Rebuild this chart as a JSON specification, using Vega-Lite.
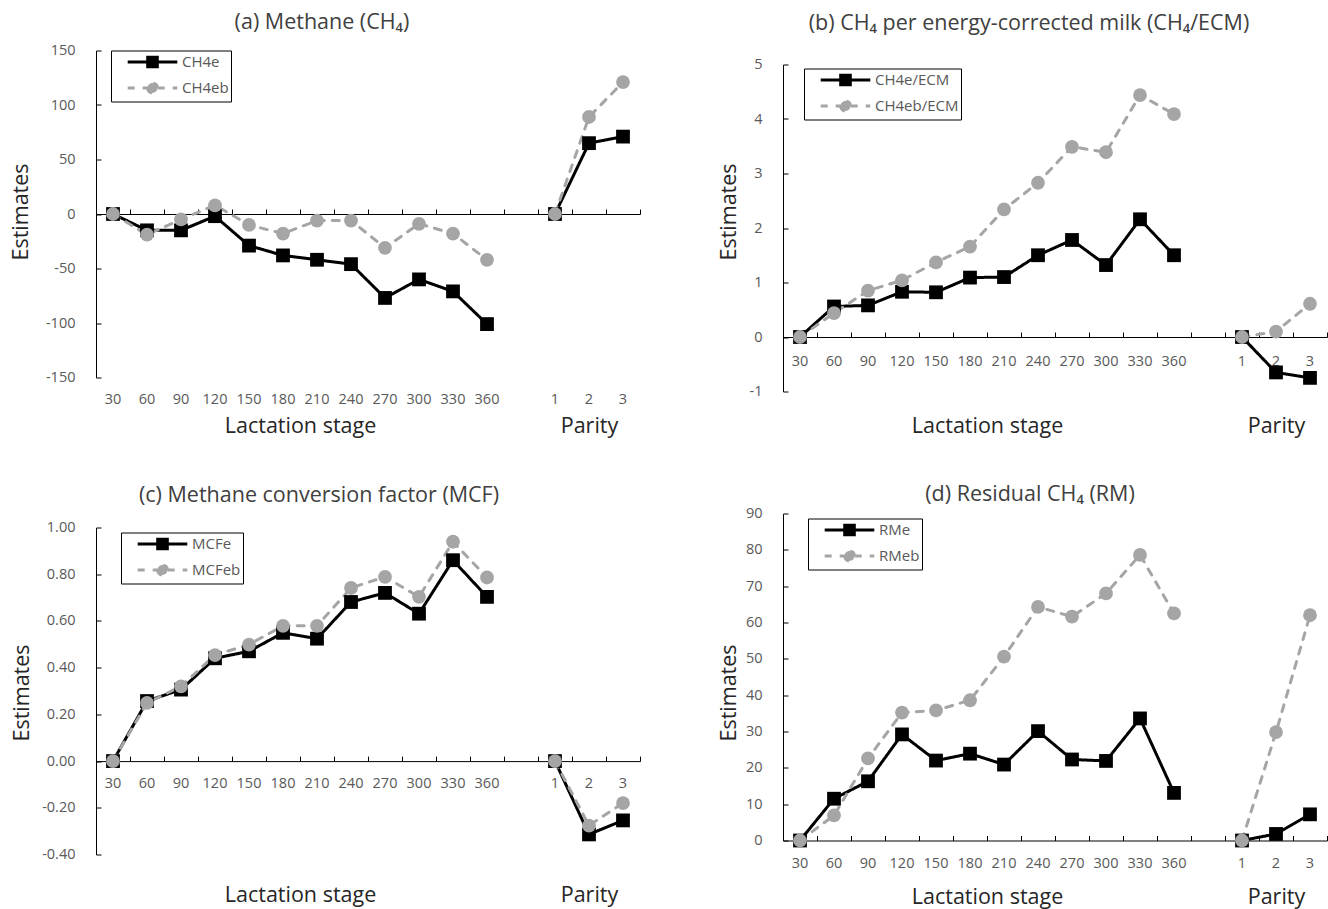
{
  "$schema": "https://vega.github.io/schema/vega-lite/v6.json",
  "background": "white",
  "padding": {"left": 10, "top": 11.5, "right": 0, "bottom": 0},
  "columns": 2,
  "spacing": {"row": 46, "column": 77},
  "resolve": {
    "scale": {"color": "independent", "strokeDash": "independent"},
    "legend": {"color": "independent", "strokeDash": "independent"}
  },
  "datasets": {
    "a": [
      {"cat": "30", "part": "L", "series": "CH4e", "value": 0},
      {"cat": "60", "part": "L", "series": "CH4e", "value": -15},
      {"cat": "90", "part": "L", "series": "CH4e", "value": -15},
      {"cat": "120", "part": "L", "series": "CH4e", "value": -2},
      {"cat": "150", "part": "L", "series": "CH4e", "value": -29},
      {"cat": "180", "part": "L", "series": "CH4e", "value": -38},
      {"cat": "210", "part": "L", "series": "CH4e", "value": -42},
      {"cat": "240", "part": "L", "series": "CH4e", "value": -46},
      {"cat": "270", "part": "L", "series": "CH4e", "value": -77},
      {"cat": "300", "part": "L", "series": "CH4e", "value": -60},
      {"cat": "330", "part": "L", "series": "CH4e", "value": -71},
      {"cat": "360", "part": "L", "series": "CH4e", "value": -101},
      {"cat": "1", "part": "P", "series": "CH4e", "value": 0},
      {"cat": "2", "part": "P", "series": "CH4e", "value": 65},
      {"cat": "3", "part": "P", "series": "CH4e", "value": 71},
      {"cat": "30", "part": "L", "series": "CH4eb", "value": 0},
      {"cat": "60", "part": "L", "series": "CH4eb", "value": -19},
      {"cat": "90", "part": "L", "series": "CH4eb", "value": -5},
      {"cat": "120", "part": "L", "series": "CH4eb", "value": 8},
      {"cat": "150", "part": "L", "series": "CH4eb", "value": -10},
      {"cat": "180", "part": "L", "series": "CH4eb", "value": -18},
      {"cat": "210", "part": "L", "series": "CH4eb", "value": -6},
      {"cat": "240", "part": "L", "series": "CH4eb", "value": -6},
      {"cat": "270", "part": "L", "series": "CH4eb", "value": -31},
      {"cat": "300", "part": "L", "series": "CH4eb", "value": -9},
      {"cat": "330", "part": "L", "series": "CH4eb", "value": -18},
      {"cat": "360", "part": "L", "series": "CH4eb", "value": -42},
      {"cat": "1", "part": "P", "series": "CH4eb", "value": 0},
      {"cat": "2", "part": "P", "series": "CH4eb", "value": 89},
      {"cat": "3", "part": "P", "series": "CH4eb", "value": 121}
    ],
    "b": [
      {"cat": "30", "part": "L", "series": "CH4e/ECM", "value": 0},
      {"cat": "60", "part": "L", "series": "CH4e/ECM", "value": 0.56},
      {"cat": "90", "part": "L", "series": "CH4e/ECM", "value": 0.58},
      {"cat": "120", "part": "L", "series": "CH4e/ECM", "value": 0.83},
      {"cat": "150", "part": "L", "series": "CH4e/ECM", "value": 0.82},
      {"cat": "180", "part": "L", "series": "CH4e/ECM", "value": 1.09},
      {"cat": "210", "part": "L", "series": "CH4e/ECM", "value": 1.10},
      {"cat": "240", "part": "L", "series": "CH4e/ECM", "value": 1.50},
      {"cat": "270", "part": "L", "series": "CH4e/ECM", "value": 1.78},
      {"cat": "300", "part": "L", "series": "CH4e/ECM", "value": 1.32},
      {"cat": "330", "part": "L", "series": "CH4e/ECM", "value": 2.16},
      {"cat": "360", "part": "L", "series": "CH4e/ECM", "value": 1.50},
      {"cat": "1", "part": "P", "series": "CH4e/ECM", "value": 0},
      {"cat": "2", "part": "P", "series": "CH4e/ECM", "value": -0.65},
      {"cat": "3", "part": "P", "series": "CH4e/ECM", "value": -0.75},
      {"cat": "30", "part": "L", "series": "CH4eb/ECM", "value": 0},
      {"cat": "60", "part": "L", "series": "CH4eb/ECM", "value": 0.44},
      {"cat": "90", "part": "L", "series": "CH4eb/ECM", "value": 0.85},
      {"cat": "120", "part": "L", "series": "CH4eb/ECM", "value": 1.04},
      {"cat": "150", "part": "L", "series": "CH4eb/ECM", "value": 1.37},
      {"cat": "180", "part": "L", "series": "CH4eb/ECM", "value": 1.66},
      {"cat": "210", "part": "L", "series": "CH4eb/ECM", "value": 2.34},
      {"cat": "240", "part": "L", "series": "CH4eb/ECM", "value": 2.83},
      {"cat": "270", "part": "L", "series": "CH4eb/ECM", "value": 3.49},
      {"cat": "300", "part": "L", "series": "CH4eb/ECM", "value": 3.39},
      {"cat": "330", "part": "L", "series": "CH4eb/ECM", "value": 4.44},
      {"cat": "360", "part": "L", "series": "CH4eb/ECM", "value": 4.09},
      {"cat": "1", "part": "P", "series": "CH4eb/ECM", "value": 0},
      {"cat": "2", "part": "P", "series": "CH4eb/ECM", "value": 0.10},
      {"cat": "3", "part": "P", "series": "CH4eb/ECM", "value": 0.61}
    ],
    "c": [
      {"cat": "30", "part": "L", "series": "MCFe", "value": 0},
      {"cat": "60", "part": "L", "series": "MCFe", "value": 0.257},
      {"cat": "90", "part": "L", "series": "MCFe", "value": 0.306},
      {"cat": "120", "part": "L", "series": "MCFe", "value": 0.44},
      {"cat": "150", "part": "L", "series": "MCFe", "value": 0.47},
      {"cat": "180", "part": "L", "series": "MCFe", "value": 0.549},
      {"cat": "210", "part": "L", "series": "MCFe", "value": 0.524},
      {"cat": "240", "part": "L", "series": "MCFe", "value": 0.681},
      {"cat": "270", "part": "L", "series": "MCFe", "value": 0.72},
      {"cat": "300", "part": "L", "series": "MCFe", "value": 0.631},
      {"cat": "330", "part": "L", "series": "MCFe", "value": 0.86},
      {"cat": "360", "part": "L", "series": "MCFe", "value": 0.703},
      {"cat": "1", "part": "P", "series": "MCFe", "value": 0},
      {"cat": "2", "part": "P", "series": "MCFe", "value": -0.314},
      {"cat": "3", "part": "P", "series": "MCFe", "value": -0.254},
      {"cat": "30", "part": "L", "series": "MCFeb", "value": 0},
      {"cat": "60", "part": "L", "series": "MCFeb", "value": 0.249},
      {"cat": "90", "part": "L", "series": "MCFeb", "value": 0.32},
      {"cat": "120", "part": "L", "series": "MCFeb", "value": 0.454},
      {"cat": "150", "part": "L", "series": "MCFeb", "value": 0.499},
      {"cat": "180", "part": "L", "series": "MCFeb", "value": 0.579},
      {"cat": "210", "part": "L", "series": "MCFeb", "value": 0.579},
      {"cat": "240", "part": "L", "series": "MCFeb", "value": 0.741},
      {"cat": "270", "part": "L", "series": "MCFeb", "value": 0.789},
      {"cat": "300", "part": "L", "series": "MCFeb", "value": 0.703},
      {"cat": "330", "part": "L", "series": "MCFeb", "value": 0.939},
      {"cat": "360", "part": "L", "series": "MCFeb", "value": 0.786},
      {"cat": "1", "part": "P", "series": "MCFeb", "value": 0},
      {"cat": "2", "part": "P", "series": "MCFeb", "value": -0.276},
      {"cat": "3", "part": "P", "series": "MCFeb", "value": -0.18}
    ],
    "d": [
      {"cat": "30", "part": "L", "series": "RMe", "value": 0},
      {"cat": "60", "part": "L", "series": "RMe", "value": 11.5},
      {"cat": "90", "part": "L", "series": "RMe", "value": 16.3},
      {"cat": "120", "part": "L", "series": "RMe", "value": 29.2},
      {"cat": "150", "part": "L", "series": "RMe", "value": 22.0},
      {"cat": "180", "part": "L", "series": "RMe", "value": 23.9},
      {"cat": "210", "part": "L", "series": "RMe", "value": 20.9},
      {"cat": "240", "part": "L", "series": "RMe", "value": 30.1},
      {"cat": "270", "part": "L", "series": "RMe", "value": 22.3},
      {"cat": "300", "part": "L", "series": "RMe", "value": 21.9},
      {"cat": "330", "part": "L", "series": "RMe", "value": 33.6},
      {"cat": "360", "part": "L", "series": "RMe", "value": 13.1},
      {"cat": "1", "part": "P", "series": "RMe", "value": 0},
      {"cat": "2", "part": "P", "series": "RMe", "value": 1.8},
      {"cat": "3", "part": "P", "series": "RMe", "value": 7.2},
      {"cat": "30", "part": "L", "series": "RMeb", "value": 0},
      {"cat": "60", "part": "L", "series": "RMeb", "value": 6.9},
      {"cat": "90", "part": "L", "series": "RMeb", "value": 22.6},
      {"cat": "120", "part": "L", "series": "RMeb", "value": 35.2},
      {"cat": "150", "part": "L", "series": "RMeb", "value": 35.8},
      {"cat": "180", "part": "L", "series": "RMeb", "value": 38.6},
      {"cat": "210", "part": "L", "series": "RMeb", "value": 50.6},
      {"cat": "240", "part": "L", "series": "RMeb", "value": 64.3},
      {"cat": "270", "part": "L", "series": "RMeb", "value": 61.6},
      {"cat": "300", "part": "L", "series": "RMeb", "value": 68.0},
      {"cat": "330", "part": "L", "series": "RMeb", "value": 78.6},
      {"cat": "360", "part": "L", "series": "RMeb", "value": 62.5},
      {"cat": "1", "part": "P", "series": "RMeb", "value": 0},
      {"cat": "2", "part": "P", "series": "RMeb", "value": 29.8},
      {"cat": "3", "part": "P", "series": "RMeb", "value": 62.0}
    ]
  },
  "config": {
    "font": "Open Sans, DejaVu Sans",
    "view": {"stroke": null},
    "axis": {
      "grid": false,
      "domainColor": "#000000",
      "domainWidth": 1,
      "tickColor": "#000000",
      "tickWidth": 1,
      "labelColor": "#595959",
      "labelFontSize": 14.5,
      "titleFontSize": 21.5,
      "titleFontWeight": "normal",
      "titleColor": "#262626"
    },
    "title": {"fontSize": 21.5, "fontWeight": "normal", "color": "#404040", "anchor": "middle", "baseline": "bottom"},
    "legend": {
      "orient": "none",
      "strokeColor": "#000000",
      "fillColor": "#ffffff",
      "padding": 2,
      "rowPadding": 3,
      "labelFontSize": 15,
      "labelColor": "#595959",
      "labelExpr": "datum.label + '   '",
      "symbolSize": 256,
      "symbolOffset": 30,
      "labelOffset": 20,
      "symbolStrokeWidth": 3
    }
  },
  "concat": [
    {
      "data": {"name": "a"},
      "width": 544,
      "height": 327,
      "title": {"text": "(a) Methane (CH₄)", "offset": 9.5, "dx": -46},
      "encoding": {
        "y": {"field": "value", "type": "quantitative",
          "scale": {"domain": [-150, 150], "nice": false, "zero": false},
          "axis": {"title": "Estimates", "values": [-150, -100, -50, 0, 50, 100, 150], "tickSize": -5, "labelPadding": 26,
            "labelExpr": "replace(datum.label, '−', '-')",
            "titleX": -75, "titleY": 161, "titleAngle": 270, "titleAlign": "center", "titleBaseline": "middle"}},
        "color": {"field": "series", "type": "nominal",
          "scale": {"domain": ["CH4e", "CH4eb"], "range": ["#000000", "#A5A5A5"]},
          "legend": {"title": null, "legendX": 15, "legendY": 0,
            "encode": {"symbols": {"update": {
              "shape": {"signal": "datum.index === 0 ? 'M-3.1,0H3.1M-0.6,-0.6H0.6V0.6H-0.6Z' : 'M-3.1,0H3.1M-0.62,0A0.62,0.62,0,1,0,0.62,0A0.62,0.62,0,1,0,-0.62,0Z'"},
              "fill": {"signal": "datum.index === 0 ? '#000000' : '#A5A5A5'"},
              "stroke": {"signal": "datum.index === 0 ? '#000000' : '#A5A5A5'"},
              "strokeWidth": {"value": 3},
              "opacity": {"value": 1}
            }}}}}
      },
      "layer": [
        {
          "mark": {"type": "line", "strokeWidth": 3, "strokeCap": "round", "strokeJoin": "round"},
          "encoding": {
            "x": {"field": "cat", "type": "nominal", "bandPosition": 0.5,
              "scale": {"type": "band", "domain": ["30", "60", "90", "120", "150", "180", "210", "240", "270", "300", "330", "360", " ", "1", "2", "3"], "paddingInner": 0, "paddingOuter": 0},
              "axis": {"orient": "bottom", "offset": 0, "domain": false, "ticks": false, "labelAngle": 0, "labelPadding": 15,
                "title": "Lactation stage", "titleX": 204, "titleY": 49, "titleAlign": "center", "titleBaseline": "middle"}},
            "strokeDash": {"field": "series", "type": "nominal", "scale": {"domain": ["CH4e", "CH4eb"], "range": [[1, 0], [7, 8]]}},
            "detail": {"field": "part"}
          }
        },
        {
          "mark": {"type": "point", "filled": true, "opacity": 1, "size": 190},
          "encoding": {
            "x": {"field": "cat", "type": "nominal", "bandPosition": 0.5,
              "scale": {"type": "band", "domain": ["30", "60", "90", "120", "150", "180", "210", "240", "270", "300", "330", "360", " ", "1", "2", "3"], "paddingInner": 0, "paddingOuter": 0},
              "axis": {"orient": "bottom", "offset": -163.5, "domain": true, "ticks": true, "tickBand": "extent", "tickSize": -5, "labels": false,
                "title": "Parity", "titleX": 493, "titleY": 212.5, "titleAlign": "center", "titleBaseline": "middle"}},
            "shape": {"condition": {"test": "datum.series === 'CH4e'", "value": "square"}, "value": "circle"}
          }
        }
      ],
      "resolve": {"axis": {"x": "independent"}}
    },
    {
      "data": {"name": "b"},
      "width": 544,
      "height": 341,
      "title": {"text": "(b) CH₄ per energy-corrected milk (CH₄/ECM)", "offset": 16.5, "dx": -26},
      "encoding": {
        "y": {"field": "value", "type": "quantitative",
          "scale": {"domain": [-1, 5], "nice": false, "zero": false, "range": [341, 14]},
          "axis": {"title": "Estimates", "values": [-1, 0, 1, 2, 3, 4, 5], "tickSize": -5, "labelPadding": 26,
            "labelExpr": "replace(datum.label, '−', '-')",
            "titleX": -54, "titleY": 161, "titleAngle": 270, "titleAlign": "center", "titleBaseline": "middle"}},
        "color": {"field": "series", "type": "nominal",
          "scale": {"domain": ["CH4e/ECM", "CH4eb/ECM"], "range": ["#000000", "#A5A5A5"]},
          "legend": {"title": null, "legendX": 21, "legendY": 18,
            "encode": {"symbols": {"update": {
              "shape": {"signal": "datum.index === 0 ? 'M-3.1,0H3.1M-0.6,-0.6H0.6V0.6H-0.6Z' : 'M-3.1,0H3.1M-0.62,0A0.62,0.62,0,1,0,0.62,0A0.62,0.62,0,1,0,-0.62,0Z'"},
              "fill": {"signal": "datum.index === 0 ? '#000000' : '#A5A5A5'"},
              "stroke": {"signal": "datum.index === 0 ? '#000000' : '#A5A5A5'"},
              "strokeWidth": {"value": 3},
              "opacity": {"value": 1}
            }}}}}
      },
      "layer": [
        {
          "mark": {"type": "line", "strokeWidth": 3, "strokeCap": "round", "strokeJoin": "round"},
          "encoding": {
            "x": {"field": "cat", "type": "nominal", "bandPosition": 0.5,
              "scale": {"type": "band", "domain": ["30", "60", "90", "120", "150", "180", "210", "240", "270", "300", "330", "360", " ", "1", "2", "3"], "paddingInner": 0, "paddingOuter": 0},
              "axis": {"orient": "bottom", "offset": -54.5, "domain": false, "ticks": false, "labelAngle": 0, "labelPadding": 17,
                "title": "Lactation stage", "titleX": 204, "titleY": 89.5, "titleAlign": "center", "titleBaseline": "middle"}},
            "strokeDash": {"field": "series", "type": "nominal", "scale": {"domain": ["CH4e/ECM", "CH4eb/ECM"], "range": [[1, 0], [7, 8]]}},
            "detail": {"field": "part"}
          }
        },
        {
          "mark": {"type": "point", "filled": true, "opacity": 1, "size": 190},
          "encoding": {
            "x": {"field": "cat", "type": "nominal", "bandPosition": 0.5,
              "scale": {"type": "band", "domain": ["30", "60", "90", "120", "150", "180", "210", "240", "270", "300", "330", "360", " ", "1", "2", "3"], "paddingInner": 0, "paddingOuter": 0},
              "axis": {"orient": "bottom", "offset": -54.5, "domain": true, "ticks": true, "tickBand": "extent", "tickSize": -5, "labels": false,
                "title": "Parity", "titleX": 493, "titleY": 89.5, "titleAlign": "center", "titleBaseline": "middle"}},
            "shape": {"condition": {"test": "datum.series === 'CH4e/ECM'", "value": "square"}, "value": "circle"}
          }
        }
      ],
      "resolve": {"axis": {"x": "independent"}}
    },
    {
      "data": {"name": "c"},
      "width": 544,
      "height": 341,
      "title": {"text": "(c) Methane conversion factor (MCF)", "offset": 7.5, "dx": -49},
      "encoding": {
        "y": {"field": "value", "type": "quantitative",
          "scale": {"domain": [-0.4, 1.0], "nice": false, "zero": false, "range": [341, 14]},
          "axis": {"title": "Estimates", "values": [-0.4, -0.2, 0, 0.2, 0.4, 0.6, 0.8, 1.0], "format": ".2f", "tickSize": -5, "labelPadding": 26,
            "labelExpr": "replace(datum.label, '−', '-')",
            "titleX": -73.5, "titleY": 179, "titleAngle": 270, "titleAlign": "center", "titleBaseline": "middle"}},
        "color": {"field": "series", "type": "nominal",
          "scale": {"domain": ["MCFe", "MCFeb"], "range": ["#000000", "#A5A5A5"]},
          "legend": {"title": null, "legendX": 25, "legendY": 19,
            "encode": {"symbols": {"update": {
              "shape": {"signal": "datum.index === 0 ? 'M-3.1,0H3.1M-0.6,-0.6H0.6V0.6H-0.6Z' : 'M-3.1,0H3.1M-0.62,0A0.62,0.62,0,1,0,0.62,0A0.62,0.62,0,1,0,-0.62,0Z'"},
              "fill": {"signal": "datum.index === 0 ? '#000000' : '#A5A5A5'"},
              "stroke": {"signal": "datum.index === 0 ? '#000000' : '#A5A5A5'"},
              "strokeWidth": {"value": 3},
              "opacity": {"value": 1}
            }}}}}
      },
      "layer": [
        {
          "mark": {"type": "line", "strokeWidth": 3, "strokeCap": "round", "strokeJoin": "round"},
          "encoding": {
            "x": {"field": "cat", "type": "nominal", "bandPosition": 0.5,
              "scale": {"type": "band", "domain": ["30", "60", "90", "120", "150", "180", "210", "240", "270", "300", "330", "360", " ", "1", "2", "3"], "paddingInner": 0, "paddingOuter": 0},
              "axis": {"orient": "bottom", "offset": -93.4, "domain": false, "ticks": false, "labelAngle": 0, "labelPadding": 15,
                "title": "Lactation stage", "titleX": 204, "titleY": 134.4, "titleAlign": "center", "titleBaseline": "middle"}},
            "strokeDash": {"field": "series", "type": "nominal", "scale": {"domain": ["MCFe", "MCFeb"], "range": [[1, 0], [7, 8]]}},
            "detail": {"field": "part"}
          }
        },
        {
          "mark": {"type": "point", "filled": true, "opacity": 1, "size": 190},
          "encoding": {
            "x": {"field": "cat", "type": "nominal", "bandPosition": 0.5,
              "scale": {"type": "band", "domain": ["30", "60", "90", "120", "150", "180", "210", "240", "270", "300", "330", "360", " ", "1", "2", "3"], "paddingInner": 0, "paddingOuter": 0},
              "axis": {"orient": "bottom", "offset": -93.4, "domain": true, "ticks": true, "tickBand": "extent", "tickSize": -5, "labels": false,
                "title": "Parity", "titleX": 493, "titleY": 134.4, "titleAlign": "center", "titleBaseline": "middle"}},
            "shape": {"condition": {"test": "datum.series === 'MCFe'", "value": "square"}, "value": "circle"}
          }
        }
      ],
      "resolve": {"axis": {"x": "independent"}}
    },
    {
      "data": {"name": "d"},
      "width": 544,
      "height": 327,
      "title": {"text": "(d) Residual CH₄ (RM)", "offset": 0.5, "dx": -25},
      "encoding": {
        "y": {"field": "value", "type": "quantitative",
          "scale": {"domain": [0, 90], "nice": false, "zero": false},
          "axis": {"title": "Estimates", "values": [0, 10, 20, 30, 40, 50, 60, 70, 80, 90], "tickSize": -5, "labelPadding": 26,
            "titleX": -54, "titleY": 179, "titleAngle": 270, "titleAlign": "center", "titleBaseline": "middle"}},
        "color": {"field": "series", "type": "nominal",
          "scale": {"domain": ["RMe", "RMeb"], "range": ["#000000", "#A5A5A5"]},
          "legend": {"title": null, "legendX": 25, "legendY": 5,
            "encode": {"symbols": {"update": {
              "shape": {"signal": "datum.index === 0 ? 'M-3.1,0H3.1M-0.6,-0.6H0.6V0.6H-0.6Z' : 'M-3.1,0H3.1M-0.62,0A0.62,0.62,0,1,0,0.62,0A0.62,0.62,0,1,0,-0.62,0Z'"},
              "fill": {"signal": "datum.index === 0 ? '#000000' : '#A5A5A5'"},
              "stroke": {"signal": "datum.index === 0 ? '#000000' : '#A5A5A5'"},
              "strokeWidth": {"value": 3},
              "opacity": {"value": 1}
            }}}}}
      },
      "layer": [
        {
          "mark": {"type": "line", "strokeWidth": 3, "strokeCap": "round", "strokeJoin": "round"},
          "encoding": {
            "x": {"field": "cat", "type": "nominal", "bandPosition": 0.5,
              "scale": {"type": "band", "domain": ["30", "60", "90", "120", "150", "180", "210", "240", "270", "300", "330", "360", " ", "1", "2", "3"], "paddingInner": 0, "paddingOuter": 0},
              "axis": {"orient": "bottom", "offset": 0, "domain": false, "ticks": false, "labelAngle": 0, "labelPadding": 16,
                "title": "Lactation stage", "titleX": 204, "titleY": 57, "titleAlign": "center", "titleBaseline": "middle"}},
            "strokeDash": {"field": "series", "type": "nominal", "scale": {"domain": ["RMe", "RMeb"], "range": [[1, 0], [7, 8]]}},
            "detail": {"field": "part"}
          }
        },
        {
          "mark": {"type": "point", "filled": true, "opacity": 1, "size": 190},
          "encoding": {
            "x": {"field": "cat", "type": "nominal", "bandPosition": 0.5,
              "scale": {"type": "band", "domain": ["30", "60", "90", "120", "150", "180", "210", "240", "270", "300", "330", "360", " ", "1", "2", "3"], "paddingInner": 0, "paddingOuter": 0},
              "axis": {"orient": "bottom", "offset": 0, "domain": true, "ticks": true, "tickBand": "extent", "tickSize": -5, "labels": false,
                "title": "Parity", "titleX": 493, "titleY": 57, "titleAlign": "center", "titleBaseline": "middle"}},
            "shape": {"condition": {"test": "datum.series === 'RMe'", "value": "square"}, "value": "circle"}
          }
        }
      ],
      "resolve": {"axis": {"x": "independent"}}
    }
  ]
}
